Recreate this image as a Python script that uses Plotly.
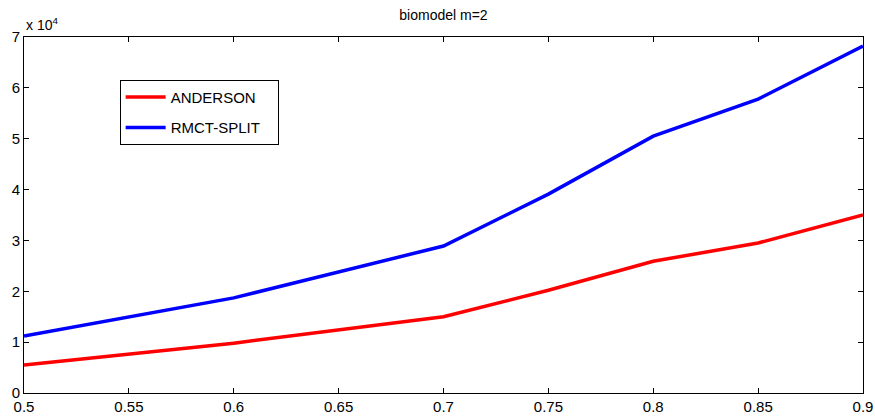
import plotly.graph_objects as go

x_vals = [0.5, 0.6, 0.7, 0.75, 0.8, 0.85, 0.9]
anderson = [5500, 9800, 15000, 20200, 25900, 29500, 35000]
rmct_split = [11200, 18700, 28900, 39100, 50500, 57800, 68200]
x_ticks = [0.5, 0.55, 0.6, 0.65, 0.7, 0.75, 0.8, 0.85, 0.9]
x_tick_text = ["0.5", "0.55", "0.6", "0.65", "0.7", "0.75", "0.8", "0.85", "0.9"]
y_ticks = [0, 10000, 20000, 30000, 40000, 50000, 60000, 70000]
y_tick_text = ["0", "1", "2", "3", "4", "5", "6", "7"]

fig = go.Figure()
fig.add_trace(go.Scatter(x=x_vals, y=anderson, mode="lines", name="ANDERSON",
                         legendgroup="a",
                         line=dict(color="#ff0000", width=3.5)))
fig.add_trace(go.Scatter(x=x_vals, y=rmct_split, mode="lines",
                         name="RMCT-SPLIT\u00a0\u00a0\u00a0",
                         legendgroup="b",
                         line=dict(color="#0000ff", width=3.5)))

font = "Liberation Sans, Arial, sans-serif"
axis_common = dict(showgrid=False, zeroline=False, showline=True, linecolor="black",
                   linewidth=1, mirror="ticks", ticks="inside", ticklen=5,
                   tickcolor="black", automargin=False,
                   tickfont=dict(family=font, size=15, color="black"))

fig.update_layout(
    width=875, height=420,
    paper_bgcolor="white", plot_bgcolor="white",
    margin=dict(l=24, r=12, t=37, b=27, autoexpand=False),
    title=dict(text="biomodel m=2", x=0.5, xref="paper", xanchor="center",
               y=0.964, yanchor="middle",
               font=dict(family=font, size=14, color="black"), automargin=False),
    xaxis=dict(range=[0.5, 0.9], tickvals=x_ticks, ticktext=x_tick_text, ticklabelstandoff=0, **axis_common),
    yaxis=dict(range=[0, 70000], tickvals=y_ticks, ticktext=y_tick_text, ticklabelstandoff=0, **axis_common),
    legend=dict(x=0.114, y=0.88, xanchor="left", yanchor="top",
                bgcolor="white", bordercolor="black", borderwidth=1,
                font=dict(family=font, size=15, color="black"),
                itemwidth=40, tracegroupgap=8),
    showlegend=True,
)
fig.add_annotation(text="x 10<sup>4</sup>", xref="paper", yref="paper", x=0, y=1.0,
                   xanchor="left", yanchor="bottom", showarrow=False, xshift=0, yshift=2,
                   font=dict(family=font, size=14, color="black"))

fig.write_html("out.html", config={"displayModeBar": False},
               post_script="document.body.style.margin='0';document.body.style.overflow='hidden';")
